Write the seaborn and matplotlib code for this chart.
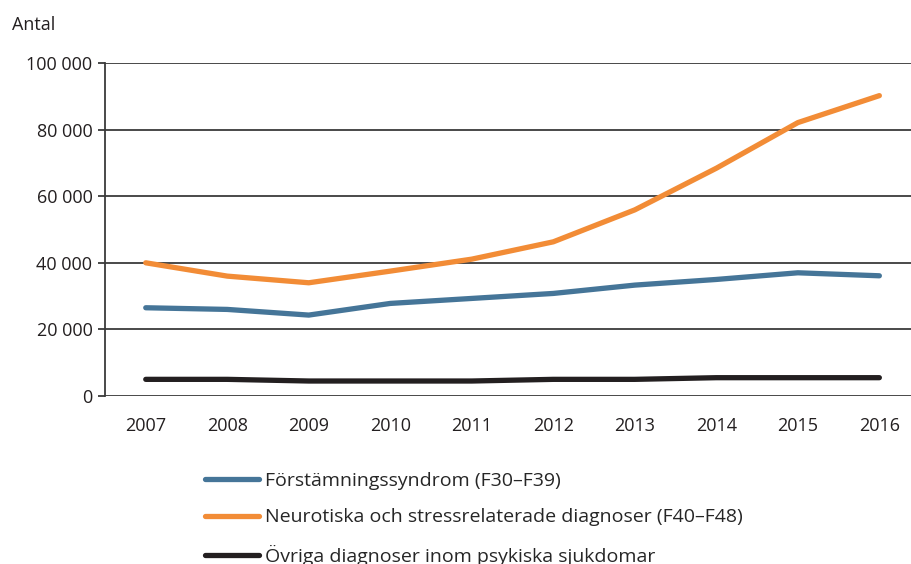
import pandas as pd
import matplotlib.pyplot as plt
import seaborn as sns

years = [2007, 2008, 2009, 2010, 2011, 2012, 2013, 2014, 2015, 2016]
forstamning = [26500, 26000, 24300, 27800, 29300, 30800, 33300, 35000, 37000, 36100]
neurotiska = [40000, 36000, 34000, 37500, 41100, 46300, 55900, 68400, 82100, 90200]
ovriga = [5000, 5000, 4500, 4500, 4500, 5000, 5000, 5500, 5500, 5500]
series_names = ['Förstämningssyndrom (F30–F39)',
                'Neurotiska och stressrelaterade diagnoser (F40–F48)',
                'Övriga diagnoser inom psykiska sjukdomar']
yticks = [0, 20000, 40000, 60000, 80000, 100000]
ytick_labels = ['0', '20 000', '40 000', '60 000', '80 000', '100 000']

df = pd.DataFrame({'År': years * 3,
                   'Antal': forstamning + neurotiska + ovriga,
                   'Serie': [series_names[0]] * 10 + [series_names[1]] * 10 + [series_names[2]] * 10})

sns.set_theme(style='white')
plt.rcParams['font.family'] = ['Open Sans', 'DejaVu Sans']
palette = {series_names[0]: '#457598', series_names[1]: '#F28C36', series_names[2]: '#231F20'}

fig = plt.figure(figsize=(9.11, 5.64), dpi=100)
ax = fig.add_axes([105 / 911, 1 - 396 / 564, 1 - 105 / 911 + 0.01, 333 / 564])

sns.lineplot(data=df, x='År', y='Antal', hue='Serie', palette=palette,
             linewidth=3.8, solid_capstyle='round', ax=ax, legend=False)

ax.set_xlim(2006.5, 2016.5)
ax.set_ylim(0, 100000)
ax.set_xticks(years)
ax.set_xticklabels([str(y) for y in years], fontsize=13, color='#231F20')
ax.set_yticks(yticks)
ax.set_yticklabels(ytick_labels, fontsize=13, color='#231F20')
ax.set_xlabel('')
ax.set_ylabel('')
ax.yaxis.grid(True, color='#3a3a3a', linewidth=1.3)
ax.set_axisbelow(True)
for s in ['top', 'right', 'bottom']:
    ax.spines[s].set_visible(False)
ax.spines['left'].set_color('#3a3a3a')
ax.spines['left'].set_linewidth(1.3)
ax.tick_params(axis='y', length=5, width=1.3, color='#3a3a3a', pad=4, left=True)
ax.tick_params(axis='x', length=0, pad=15)

fig.text(12 / 911, 1 - 25 / 564, 'Antal', fontsize=13, color='#231F20', va='center')

handles = [plt.Line2D([], [], color=palette[n], linewidth=3.8, solid_capstyle='round') for n in series_names]
fig.legend(handles, series_names, loc='upper left', bbox_to_anchor=(205 / 911, 1 - 472 / 564),
           frameon=False, fontsize=14, handlelength=2.8, handletextpad=0.3,
           labelspacing=0.95, borderaxespad=0, borderpad=0)

fig.savefig('out.png', dpi=100)
